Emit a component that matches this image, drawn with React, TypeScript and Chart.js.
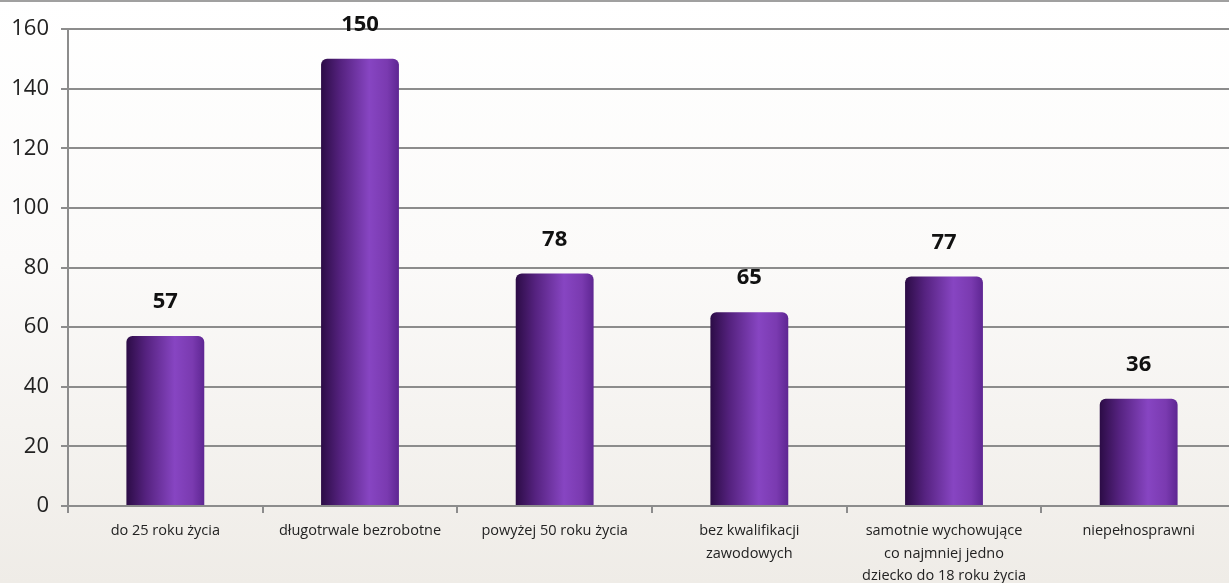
import React, { useEffect, useRef } from "react";
import { Chart, registerables } from "chart.js";

Chart.register(...registerables);

const categories: (string | string[])[] = [
  "do 25 roku życia",
  "długotrwale bezrobotne",
  "powyżej 50 roku życia",
  ["bez kwalifikacji", "zawodowych"],
  ["samotnie wychowujące", "co najmniej jedno", "dziecko do 18 roku życia"],
  "niepełnosprawni",
];
const values: number[] = [57, 150, 78, 65, 77, 36];
const yTicks = { min: 0, max: 160, step: 20 };
const BAR_PCT = 0.4;

const extras = {
  id: "extras",
  beforeDatasetsDraw(chart: any) {
    const ctx = chart.ctx;
    const meta = chart.getDatasetMeta(0);
    meta.data.forEach((el: any) => {
      const half = el.width / 2;
      if (!isFinite(el.x) || !isFinite(half)) return;
      const g = ctx.createLinearGradient(el.x - half, 0, el.x + half, 0);
      g.addColorStop(0, "#2c0c46");
      g.addColorStop(0.25, "#55227f");
      g.addColorStop(0.62, "#8745c2");
      g.addColorStop(0.85, "#7a3ab0");
      g.addColorStop(1, "#5e2692");
      el.options = Object.assign(Object.create(Object.getPrototypeOf(el.options)), el.options, {
        backgroundColor: g,
      });
    });
  },
  afterDatasetsDraw(chart: any) {
    const ctx = chart.ctx;
    const meta = chart.getDatasetMeta(0);
    ctx.save();
    ctx.font = "bold 22px 'Open Sans', sans-serif";
    ctx.fillStyle = "#111";
    ctx.textAlign = "center";
    ctx.textBaseline = "middle";
    meta.data.forEach((el: any, i: number) => {
      ctx.fillText(String(values[i]), el.x, el.y - 34);
    });
    ctx.restore();
  },
  afterDraw(chart: any) {
    const ctx = chart.ctx;
    ctx.save();
    ctx.strokeStyle = "#a0a0a0";
    ctx.lineWidth = 2;
    ctx.beginPath();
    ctx.moveTo(0, 1);
    ctx.lineTo(chart.width, 1);
    ctx.stroke();
    ctx.restore();
  },
};

export default function App() {
  const ref = useRef<HTMLCanvasElement | null>(null);
  useEffect(() => {
    if (!ref.current) return;
    const chart = new Chart(ref.current, {
      type: "bar",
      data: {
        labels: categories,
        datasets: [
          {
            data: values,
            backgroundColor: "#7a3ab0",
            borderWidth: 0,
            borderRadius: { topLeft: 6, topRight: 6, bottomLeft: 0, bottomRight: 0 },
            borderSkipped: "bottom",
            categoryPercentage: 1,
            barPercentage: BAR_PCT,
          },
        ],
      },
      options: {
        animation: false,
        responsive: false,
        maintainAspectRatio: false,
        layout: { padding: { top: 29, right: 4, left: 0, bottom: 0 } },
        plugins: {
          legend: { display: false },
          tooltip: { enabled: false },
        },
        scales: {
          x: {
            grid: {
              offset: true,
              drawOnChartArea: false,
              drawTicks: true,
              tickLength: 7,
              color: "#8c8c8c",
              lineWidth: 2,
            },
            border: { display: true, color: "#8c8c8c", width: 2 },
            ticks: {
              color: "#222",
              font: { family: "'Open Sans', sans-serif", size: 14.5, lineHeight: 1.55 },
              padding: 7,
              maxRotation: 0,
              autoSkip: false,
            },
            afterFit(scale: any) {
              scale.height = 77;
            },
          },
          y: {
            min: yTicks.min,
            max: yTicks.max,
            ticks: {
              stepSize: yTicks.step,
              color: "#222",
              font: { family: "'Open Sans', sans-serif", size: 22 },
              padding: 12,
            },
            grid: {
              color: "#8c8c8c",
              lineWidth: 2,
              drawTicks: true,
              tickLength: 7,
            },
            border: { display: true, color: "#8c8c8c", width: 2 },
            afterFit(scale: any) {
              scale.width = 68;
            },
          },
        },
      },
      plugins: [extras],
    });
    return () => chart.destroy();
  }, []);
  return (
    <div
      style={{
        position: "fixed",
        left: 0,
        top: 0,
        width: 1240,
        height: 583,
        background: "linear-gradient(#ffffff 0%, #fbfaf9 45%, #efece7 100%)",
      }}
    >
      <canvas ref={ref} width={1240} height={583} style={{ width: 1240, height: 583, display: "block" }} />
    </div>
  );
}
